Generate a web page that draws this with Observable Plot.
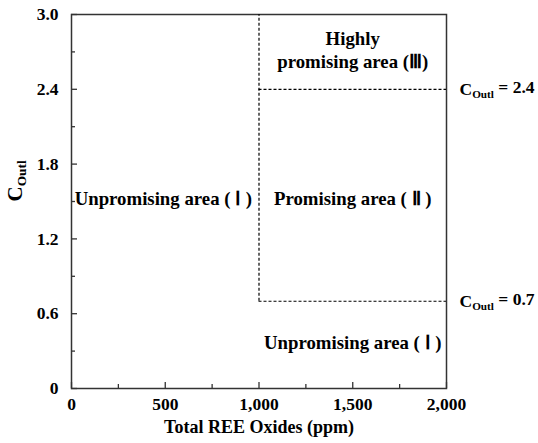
<!DOCTYPE html>
<html>
<head>
<meta charset="utf-8">
<script src="https://cdn.jsdelivr.net/npm/d3@7"></script>
<script src="https://cdn.jsdelivr.net/npm/@observablehq/plot@0.6"></script>
<style>
  html, body { margin: 0; padding: 0; background: #fff; }
  svg text { font-family: "Liberation Serif", "Times New Roman", serif; font-weight: bold; }
</style>
</head>
<body>
<div id="chart"></div>
<script>
// Axis ticks
const xTicks = [0, 500, 1000, 1500, 2000];
const xMinorTicks = [250, 750, 1250, 1750];
const yTicks = [0, 0.6, 1.2, 1.8, 2.4, 3.0];
const yMinorTicks = [0.3, 0.9, 1.5, 2.1, 2.7];

// Thresholds
const reeThreshold = 1000;
const coutlLow = 0.7;
const coutlHigh = 2.4;
const xMax = 2000;
const yMax = 3.0;

// Boundary segments (dashed)
const vSegments = [{x: reeThreshold, y1: coutlLow, y2: yMax}];
const hSegments = [
  {y: coutlHigh, x1: reeThreshold, x2: xMax},
  {y: coutlLow, x1: reeThreshold, x2: xMax}
];

// Area labels
const areaNames = ["Unpromising area ( Ⅰ )", "Promising area ( Ⅱ )", "Highly\npromising area (Ⅲ)", "Unpromising area ( Ⅰ )"];
const areaX = [490, 1500, 1500, 1500];
const areaY = [1.53, 1.53, 2.72, 0.37];
const areas = areaNames.map((t, i) => ({text: t, x: areaX[i], y: areaY[i]}));

// Threshold labels outside the frame
const thresholdLabels = [
  {text: "C{Outl} = 2.4", y: coutlHigh},
  {text: "C{Outl} = 0.7", y: coutlLow}
];

const xTitle = "Total REE Oxides (ppm)";
const yTitle = "C{Outl}";

const chart = Plot.plot({
  width: 538,
  height: 443,
  marginLeft: 71,
  marginRight: 92,
  marginTop: 14,
  marginBottom: 55,
  style: {fontFamily: "Liberation Serif, serif", fontSize: "17px", fontWeight: "bold", color: "#000", background: "#fff"},
  x: {domain: [0, xMax]},
  y: {domain: [0, yMax]},
  marks: [
    Plot.frame({stroke: "#333", strokeWidth: 1.5}),
    // ticks, inward
    Plot.axisX({ticks: xTicks, tickSize: -6, tickFormat: () => "", strokeWidth: 1.3, stroke: "#333"}),
    Plot.axisX({ticks: xMinorTicks, tickSize: -4, tickFormat: () => "", strokeWidth: 1.3, stroke: "#333"}),
    Plot.axisY({ticks: yTicks, tickSize: -6, tickFormat: () => "", strokeWidth: 1.3, stroke: "#333"}),
    Plot.axisY({ticks: yMinorTicks, tickSize: -4, tickFormat: () => "", strokeWidth: 1.3, stroke: "#333"}),
    // tick labels
    Plot.axisX({ticks: xTicks, tickSize: 0, tickPadding: 9, tickFormat: d3.format(","), label: null, fontSize: 17.5, fill: "#000"}),
    Plot.axisY({ticks: yTicks, tickSize: 0, tickPadding: 13, tickFormat: d => d === 0 ? "0" : d.toFixed(1), label: null, fontSize: 17.5, fill: "#000"}),
    // dashed boundaries
    Plot.ruleX(vSegments, {x: "x", y1: "y1", y2: "y2", stroke: "#000", strokeWidth: 1.2, strokeDasharray: "3,2"}),
    Plot.ruleY(hSegments, {y: "y", x1: "x1", x2: "x2", stroke: "#000", strokeWidth: 1.2, strokeDasharray: "3,2"}),
    // area labels
    Plot.text(areas, {x: "x", y: "y", text: "text", fontSize: 18.8, fill: "#000", lineHeight: 1.18}),
    // threshold labels
    Plot.text(thresholdLabels, {x: () => xMax, y: "y", text: "text", dx: 13, textAnchor: "start", fontSize: 17.5, fill: "#000"}),
    // axis titles
    Plot.text([xTitle], {frameAnchor: "bottom", dy: 44, fontSize: 18, fill: "#000"}),
    Plot.text([yTitle], {frameAnchor: "left", dx: -56, rotate: -90, fontSize: 21, fill: "#000"})
  ]
});

// Render "C{Outl}" as C with subscript Outl
d3.select(chart).selectAll("text").each(function() {
  const el = d3.select(this);
  if (this.querySelector("tspan")) return;
  const t = this.textContent;
  const m = t.match(/^C\{Outl\}(.*)$/);
  if (!m) return;
  el.text(null);
  el.append("tspan").text("C");
  el.append("tspan").attr("font-size", "0.64em").attr("dy", "0.3em").text("Outl");
  if (m[1]) el.append("tspan").attr("dy", "-0.3em").text(m[1]);
});

document.getElementById("chart").appendChild(chart);
</script>
</body>
</html>
